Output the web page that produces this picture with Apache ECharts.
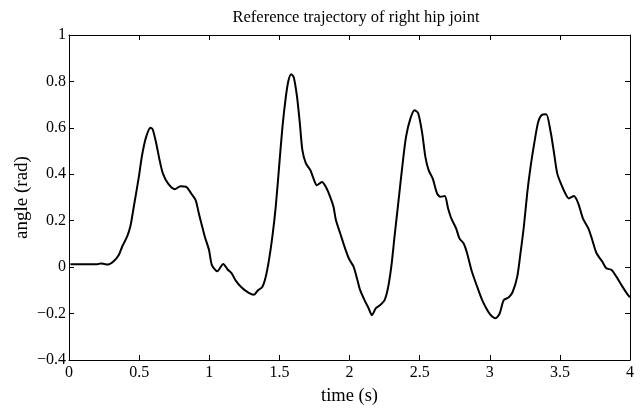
<!DOCTYPE html>
<html>
<head>
<meta charset="utf-8">
<script src="https://cdn.jsdelivr.net/npm/echarts@6/dist/echarts.min.js"></script>
<style>html,body{margin:0;padding:0;background:#fff;}#c{width:640px;height:409px;}</style>
</head>
<body>
<div id="c"></div>
<script>
var titleText = 'Reference trajectory of right hip joint';
var xName = 'time (s)';
var yName = 'angle (rad)';
var xTicks = [0, 0.5, 1, 1.5, 2, 2.5, 3, 3.5, 4];
var yTicks = [-0.4, -0.2, 0, 0.2, 0.4, 0.6, 0.8, 1];

var timeS = [0.01,0.1,0.2,0.224,0.25,0.279,0.32,0.355,0.379,0.414,0.438,0.462,0.498,0.521,0.55,0.581,0.597,0.622,0.646,0.669,0.707,0.755,0.795,0.836,0.874,0.903,0.926,0.95,0.969,0.998,1.019,1.057,1.1,1.131,1.16,1.189,1.231,1.279,1.319,1.346,1.379,1.403,1.426,1.45,1.474,1.498,1.522,1.546,1.564,1.584,1.603,1.626,1.646,1.664,1.689,1.721,1.743,1.767,1.803,1.831,1.862,1.886,1.903,1.934,1.969,1.998,2.029,2.053,2.076,2.107,2.136,2.16,2.188,2.219,2.25,2.274,2.298,2.321,2.35,2.379,2.403,2.434,2.464,2.489,2.517,2.541,2.564,2.593,2.624,2.648,2.679,2.703,2.726,2.76,2.784,2.814,2.839,2.869,2.91,2.946,2.978,3.005,3.041,3.069,3.1,3.136,3.164,3.196,3.219,3.243,3.267,3.291,3.321,3.346,3.374,3.403,3.434,3.457,3.481,3.512,3.541,3.564,3.6,3.631,3.664,3.703,3.731,3.76,3.803,3.831,3.869,3.903,3.946,3.981,4.0];
var angleRad = [0.012,0.012,0.012,0.016,0.014,0.011,0.026,0.052,0.088,0.131,0.177,0.26,0.389,0.482,0.561,0.601,0.593,0.533,0.461,0.404,0.36,0.336,0.349,0.346,0.315,0.289,0.231,0.174,0.13,0.075,0.009,-0.018,0.014,-0.01,-0.027,-0.058,-0.088,-0.11,-0.119,-0.101,-0.084,-0.041,0.031,0.131,0.26,0.432,0.604,0.733,0.802,0.831,0.817,0.733,0.619,0.504,0.447,0.418,0.382,0.353,0.367,0.346,0.303,0.26,0.203,0.145,0.08,0.034,0.002,-0.048,-0.099,-0.142,-0.177,-0.207,-0.177,-0.163,-0.142,-0.091,0.002,0.131,0.289,0.447,0.561,0.64,0.676,0.664,0.583,0.475,0.418,0.382,0.318,0.303,0.306,0.253,0.21,0.167,0.124,0.102,0.059,-0.012,-0.084,-0.142,-0.18,-0.205,-0.22,-0.202,-0.142,-0.13,-0.106,-0.041,0.059,0.174,0.318,0.432,0.547,0.626,0.657,0.659,0.583,0.497,0.404,0.353,0.315,0.296,0.306,0.275,0.21,0.167,0.117,0.062,0.023,-0.005,-0.012,-0.041,-0.084,-0.116,-0.13];

var seriesData = timeS.map(function (t, i) { return [t, angleRad[i]]; });
var FONT = 'Liberation Serif';
function fmt(v) { return String(v).replace('-', '\u2212'); }

var axisCommon = {
  axisLine: { show: true, onZero: false, lineStyle: { color: '#000', width: 1 } },
  axisTick: { show: true, inside: true, length: 5, lineStyle: { color: '#000' } },
  splitLine: { show: false }
};

var chart = echarts.init(document.getElementById('c'), null, { renderer: 'canvas' });
chart.setOption({
  animation: false,
  backgroundColor: '#fff',
  title: {
    text: titleText, left: 351, top: 4, textAlign: 'center',
    textStyle: { fontFamily: FONT, fontSize: 16.5, fontWeight: 'normal', color: '#000' }
  },
  grid: { left: 69, right: 10, top: 35, bottom: 49, outerBoundsMode: 'none', containLabel: false },
  xAxis: [
    Object.assign({
      type: 'value', min: xTicks[0], max: xTicks[xTicks.length - 1], interval: 0.5,
      position: 'bottom',
      name: xName, nameLocation: 'middle', nameGap: 27, nameMoveOverlap: false,
      nameTextStyle: { fontFamily: FONT, fontSize: 18.5, color: '#000' },
      axisLabel: { fontFamily: FONT, fontSize: 16, color: '#000', margin: 5, formatter: fmt }
    }, axisCommon),
    Object.assign({
      type: 'value', min: xTicks[0], max: xTicks[xTicks.length - 1], interval: 0.5,
      position: 'top', axisLabel: { show: false }
    }, axisCommon)
  ],
  yAxis: [
    Object.assign({
      type: 'value', min: yTicks[0], max: yTicks[yTicks.length - 1], interval: 0.2,
      position: 'left',
      name: yName, nameLocation: 'middle', nameGap: 37, nameMoveOverlap: false,
      nameTextStyle: { fontFamily: FONT, fontSize: 19, color: '#000' },
      axisLabel: { fontFamily: FONT, fontSize: 16, color: '#000', margin: 3,
        formatter: function (v) { return fmt(Math.round(v * 10) / 10); } }
    }, axisCommon),
    Object.assign({
      type: 'value', min: yTicks[0], max: yTicks[yTicks.length - 1], interval: 0.2,
      position: 'right', axisLabel: { show: false }
    }, axisCommon)
  ],
  series: [{
    type: 'line', data: seriesData, xAxisIndex: 0, yAxisIndex: 0,
    showSymbol: false, smooth: 0.25,
    lineStyle: { color: '#000', width: 2 }
  }]
});
</script>
</body>
</html>
